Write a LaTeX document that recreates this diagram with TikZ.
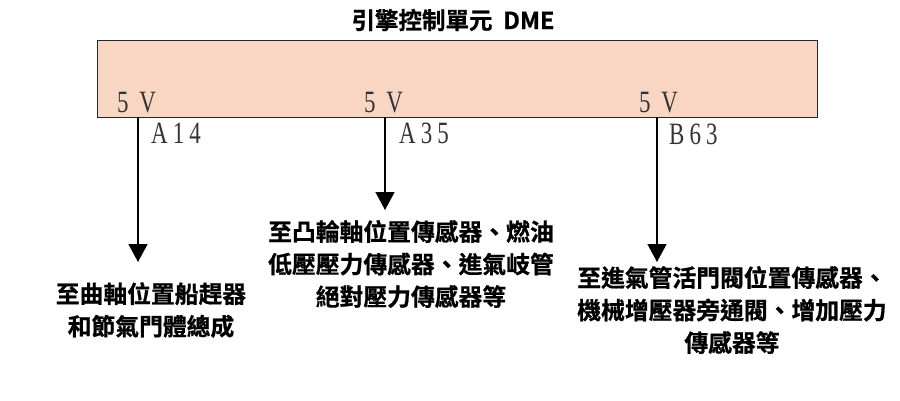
\documentclass[tikz,border=0pt]{standalone}
\usepackage{fontspec}
\usetikzlibrary{arrows.meta}
\newfontfamily\cjkb[FakeBold=0.8]{Noto Sans CJK TC Bold}
\newfontfamily\pinfont[LetterSpace=22]{Liberation Serif}
\definecolor{ecufill}{HTML}{F9D6C4}
\definecolor{pinink}{HTML}{333333}
\tikzset{
  ecu/.style={draw=black!85, line width=1.2pt, fill=ecufill},
  pin/.style={inner sep=0pt, anchor=base west, text=pinink, font=\pinfont\fontsize{31}{31}\selectfont},
  dest/.style={inner sep=0pt, align=center, font=\cjkb\fontsize{23.8}{32.5}\selectfont},
  arr/.style={line width=1.4pt, -{Triangle[width=19pt,length=18pt]}},
}
\newcommand{\pinlab}[1]{\scalebox{0.74}[1]{#1}}
\begin{document}
\begin{tikzpicture}[x=1pt,y=-1pt]
\useasboundingbox (0,0) rectangle (900,400);
\node[font=\cjkb\fontsize{23.5}{23.5}\selectfont, inner sep=0pt] (title) at (453,20) {引擎控制單元\ \ DME};
\node[ecu, minimum width=720pt, minimum height=77pt, anchor=north west, inner sep=0pt] (dme) at (97,40) {};
% 5 V labels
\node[pin] (v1) at (117,112) {\pinlab{5 V}};
\node[pin] (v2) at (364,112) {\pinlab{5 V}};
\node[pin] (v3) at (639,112) {\pinlab{5 V}};
% pin names
\node[pin] (p1) at (151,143) {\pinlab{A14}};
\node[pin] (p2) at (399,143) {\pinlab{A35}};
\node[pin] (p3) at (669,144) {\pinlab{B63}};
% connector start/end points
\coordinate (s1) at (138,117);
\coordinate (s2) at (385,117);
\coordinate (s3) at (657,117);
\coordinate (e1) at (138,262);
\coordinate (e2) at (385,210);
\coordinate (e3) at (657,262);
\draw[arr] (s1) -- (e1);
\draw[arr] (s2) -- (e2);
\draw[arr] (s3) -- (e3);
% destinations
\node[dest] (d1) at (151,310) {至曲軸位置船趕器\\和節氣門體總成};
\node[dest] (d2) at (411,264) {至凸輪軸位置傳感器、燃油\\低壓壓力傳感器、進氣岐管\\絕對壓力傳感器等};
\node[dest] (d3) at (732,310) {至進氣管活門閥位置傳感器、\\機械增壓器旁通閥、增加壓力\\傳感器等};
\end{tikzpicture}
\end{document}
